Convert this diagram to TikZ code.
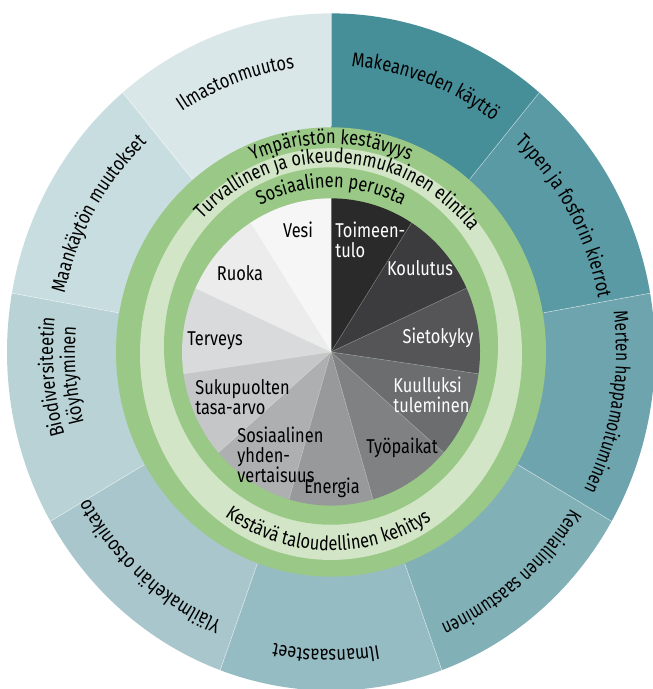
\documentclass[tikz,border=0pt]{standalone}
\usepackage{fontspec}
\setmainfont{Fira Sans}[FakeStretch=0.82]
\newfontfamily\narrowfont{Fira Sans}[FakeStretch=0.77]
\usetikzlibrary{decorations.text}

\newcommand{\labfont}{\fontsize{10}{10}\selectfont}

% outer ring (planetary boundaries)
\definecolor{oA}{HTML}{468E98}
\definecolor{oB}{HTML}{5A9AA4}
\definecolor{oC}{HTML}{6EA4AE}
\definecolor{oD}{HTML}{82B0B7}
\definecolor{oE}{HTML}{96BCC3}
\definecolor{oF}{HTML}{A8C6CB}
\definecolor{oG}{HTML}{B8D2D6}
\definecolor{oH}{HTML}{C8DDE0}
\definecolor{oI}{HTML}{DAE7E9}
% inner pie (social foundation)
\definecolor{pA}{HTML}{2A2A2A}
\definecolor{pB}{HTML}{3C3C3E}
\definecolor{pC}{HTML}{555557}
\definecolor{pD}{HTML}{6C6D6F}
\definecolor{pE}{HTML}{808183}
\definecolor{pF}{HTML}{98999B}
\definecolor{pG}{HTML}{AEAFB1}
\definecolor{pH}{HTML}{C5C6C7}
\definecolor{pI}{HTML}{D9DADB}
\definecolor{pJ}{HTML}{EBECEB}
\definecolor{pK}{HTML}{F6F6F6}
\definecolor{ringgreen}{HTML}{9AC886}
\definecolor{ringlight}{HTML}{D2E6C7}

\begin{document}
\begin{tikzpicture}[
    x=0.5pt, y=0.5225pt,
    lbl/.style={font=\labfont, inner sep=0pt},
    lblw/.style={lbl, text=white},
    seam/.style={white, opacity=0.5, line width=0.3pt},
    bendtext/.style={decorate, decoration={text along path, text align=center, text={|\labfont|#1}}},
    bendnarrow/.style={decorate, decoration={text along path, text align=center, text={|\narrowfont\labfont|#1}}}
]
\useasboundingbox (-331,-322.5) rectangle (321,336.8);

% outer segments
\foreach \col [count=\i from 0] in {oA,oB,oC,oD,oE,oF,oG,oH,oI} {
  \fill[\col] (0,0) -- ({90-\i*40}:324) arc[start angle={90-\i*40}, end angle={50-\i*40}, radius=324] -- cycle;
}
\foreach \a in {90,50,...,-230} \draw[seam] (\a:216) -- (\a:324);

% rings
\fill[ringgreen] (0,0) circle[radius=215];
\fill[ringlight] (0,-2) circle[x radius=191, y radius=197];
\fill[ringgreen] (0,5.7) circle[x radius=167, y radius=171];

% pie
\foreach \col [count=\i from 0] in {pA,pB,pC,pD,pE,pF,pG,pH,pI,pJ,pK} {
  \pgfmathsetmacro\sa{90-\i*360/11}
  \pgfmathsetmacro\ea{90-(\i+1)*360/11}
  \fill[\col] (0,0) -- (\sa:149 and 147) arc[start angle=\sa, end angle=\ea, x radius=149, y radius=147] -- cycle;
}
\foreach \i in {0,...,10} \draw[seam, opacity=0.25] (0,0) -- ({90-\i*360/11}:149 and 147);

% ring texts
\path[bendtext=Ympäristön kestävyys] (150:199) arc[start angle=150, end angle=30, radius=199];
\path[bendtext=Turvallinen ja oikeudenmukainen elintila] (177.5:181) arc[start angle=177.5, end angle=-2.5, radius=181];
\path[bendtext=Sosiaalinen perusta] (150:157) arc[start angle=150, end angle=30, radius=157];
\path[bendtext=Kestävä taloudellinen kehitys] (-181:190) arc[start angle=-181, end angle=-1, radius=190];

% outer texts
\path[bendtext=Ilmastonmuutos] (150:274) arc[start angle=150, end angle=70, radius=274];
\path[bendtext=Makeanveden käyttö] (110:274) arc[start angle=110, end angle=30, radius=274];
\path[bendtext=Typen ja fosforin kierrot] (69.5:272) arc[start angle=69.5, end angle=-10.5, radius=272];
\path[bendnarrow=Merten happamoituminen] (30:285) arc[start angle=30, end angle=-50, radius=285];
\path[bendnarrow=Kemiallinen saastuminen] (-10:283) arc[start angle=-10, end angle=-90, radius=283];
\path[bendtext=Ilmansaasteet] (-51:285) arc[start angle=-51, end angle=-131, radius=285];
\path[bendtext=Yläilmakehän otsonikato] (-91:280) arc[start angle=-91, end angle=-171, radius=280];
\path[bendtext=Biodiversiteetin] (-135:278) arc[start angle=-135, end angle=-215, radius=278];
\path[bendtext=köyhtyminen] (-135:256) arc[start angle=-135, end angle=-215, radius=256];
\path[bendtext=Maankäytön muutokset] (190:272) arc[start angle=190, end angle=110, radius=272];

% pie labels
\node[lbl] (vesi) at (-33,117) {Vesi};
\node[lblw, anchor=west, align=left] (toimeentulo) at (4,107) {Toimeen-\\tulo};
\node[lblw] (koulutus) at (89,80) {Koulutus};
\node[lblw] (sietokyky) at (107,14) {Sietokyky};
\node[lblw, anchor=west, align=left] (kuulluksi) at (62,-41) {Kuulluksi\\tuleminen};
\node[lbl] (tyopaikat) at (71,-92) {Työpaikat};
\node[lbl] (energia) at (1,-130) {Energia};
\node[lbl, anchor=west, align=left] (yhdenvertaisuus) at (-94,-98) {Sosiaalinen\\yhden-\\vertaisuus};
\node[lbl, anchor=west, align=left] (tasaarvo) at (-136,-43) {Sukupuolten\\tasa-arvo};
\node[lbl] (terveys) at (-116,10.5) {Terveys};
\node[lbl] (ruoka) at (-91,75.6) {Ruoka};

\end{tikzpicture}
\end{document}
